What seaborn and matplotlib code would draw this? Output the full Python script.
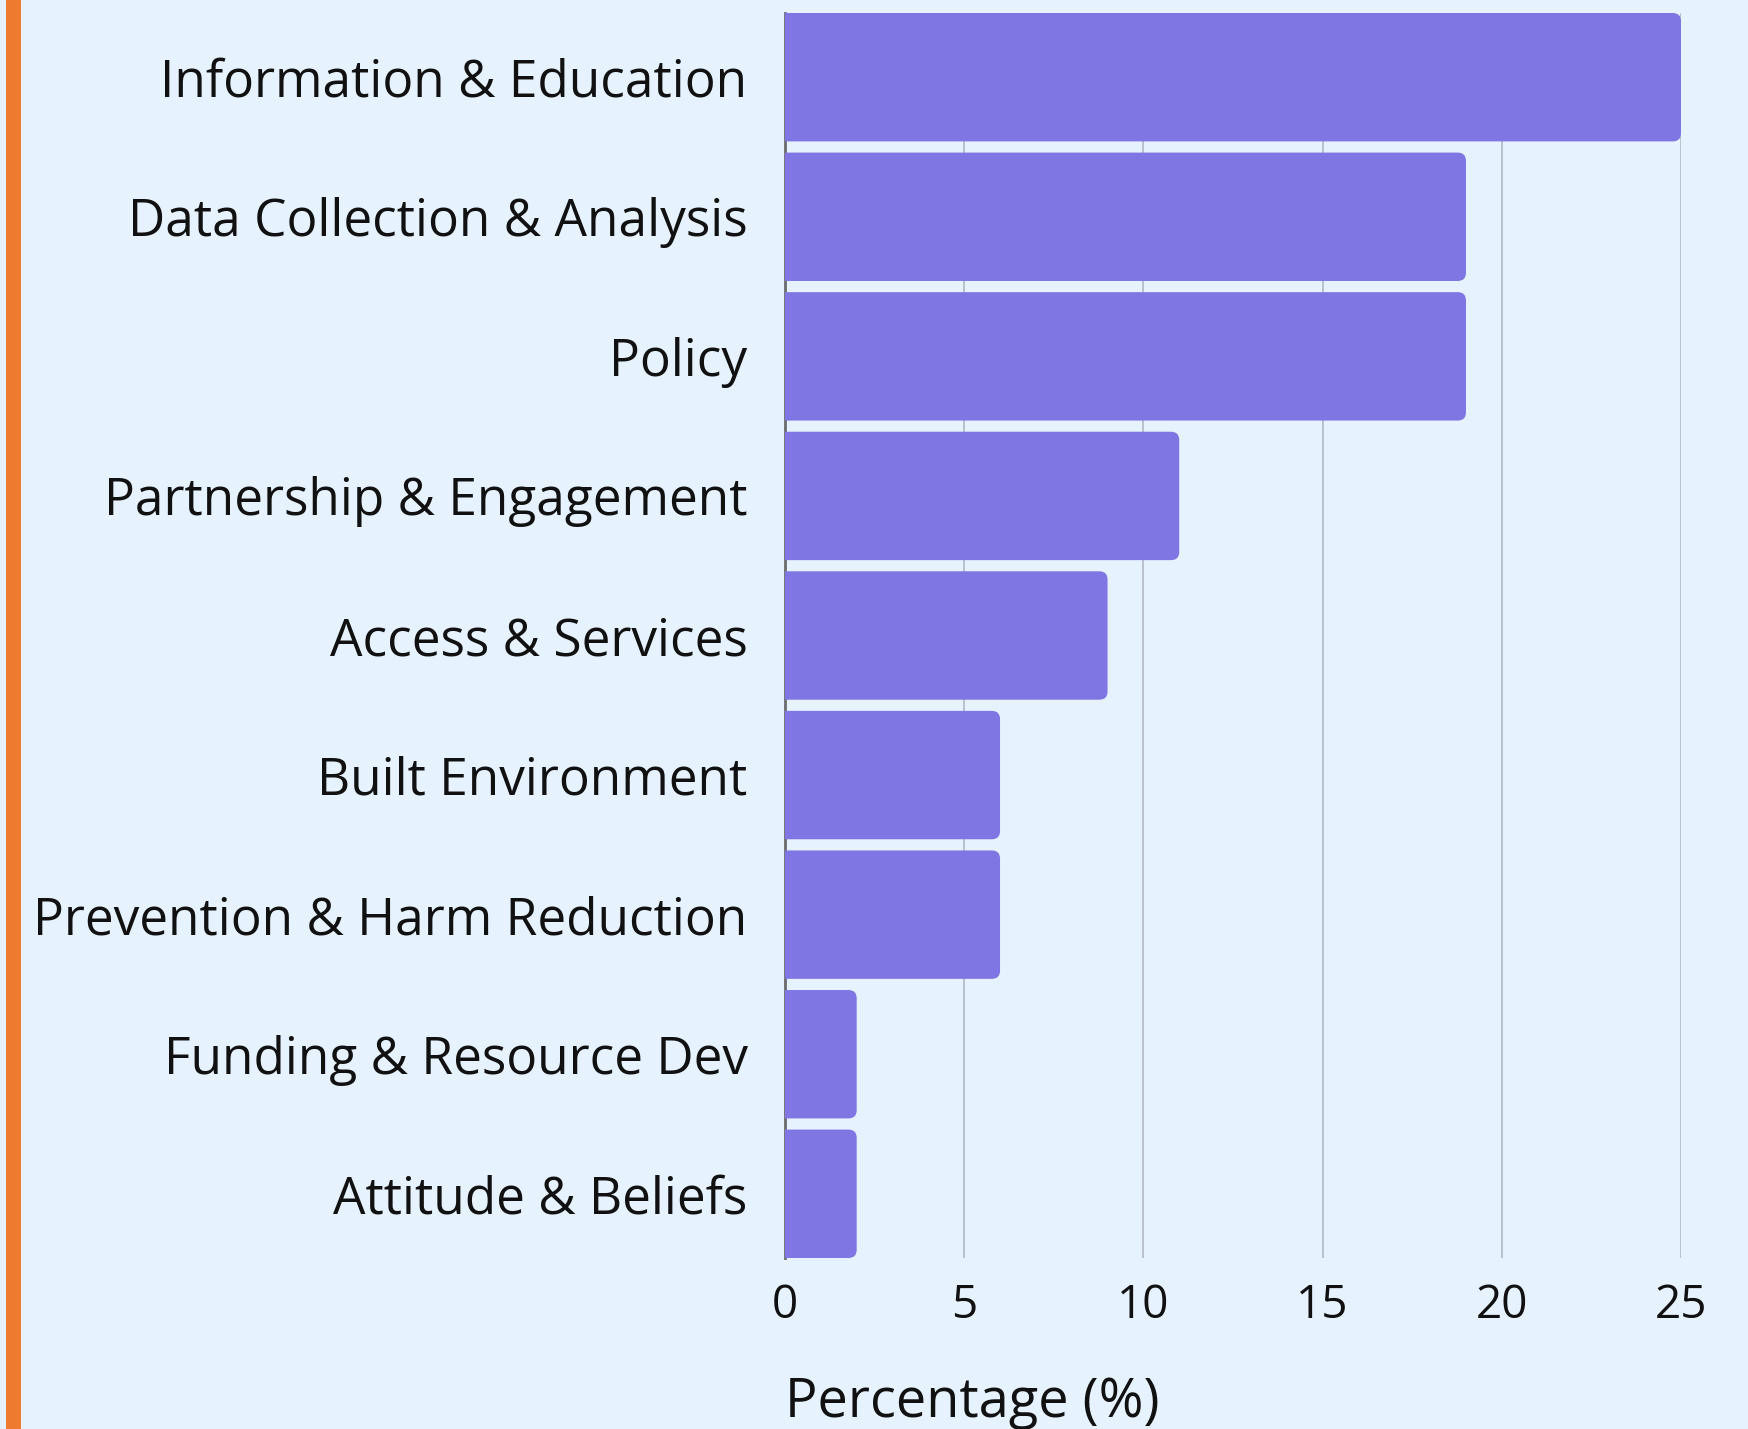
import matplotlib
matplotlib.use("Agg")
import matplotlib.pyplot as plt
import pandas as pd
import seaborn as sns
from matplotlib.patches import FancyBboxPatch, Rectangle

categories = [
    "Information & Education",
    "Data Collection & Analysis",
    "Policy",
    "Partnership & Engagement",
    "Access & Services",
    "Built Environment",
    "Prevention & Harm Reduction",
    "Funding & Resource Dev",
    "Attitude & Beliefs",
]
percentages = [25, 19, 19, 11, 9, 6, 6, 2, 2]
x_ticks = [0, 5, 10, 15, 20, 25]

BG = "#E6F2FD"
BAR = "#7F76E3"
ORANGE = "#EE7A2F"
GRID = "#B9C1CD"

df = pd.DataFrame({"category": categories, "pct": percentages})

sns.set_theme(style="white")
plt.rcParams["font.family"] = ["Open Sans", "DejaVu Sans"]

fig = plt.figure(figsize=(17.48, 14.29), dpi=100, facecolor=BG)
ax = fig.add_axes([785 / 1748, 1 - 1258 / 1429, 896 / 1748, 1245 / 1429])
ax.set_facecolor(BG)

bw = 0.92
sns.barplot(data=df, x="pct", y="category", color=BAR, saturation=1,
            width=bw, ax=ax, orient="h")

ax.set_xlim(0, 25)
ax.set_ylim(len(categories) - 1 + bw / 2, -bw / 2)

# swap the flat bars for ones with rounded right corners
px_x = 896 / 25
px_y = 1245 / (len(categories) - 1 + bw)
for p in list(ax.patches):
    x0, y0, w, h = p.get_x(), p.get_y(), p.get_width(), p.get_height()
    p.set_visible(False)
    box = FancyBboxPatch((x0 - 1, y0), w + 1, h,
                         boxstyle="round,pad=0,rounding_size=0.23",
                         mutation_aspect=px_x / px_y,
                         facecolor=BAR, edgecolor="none", zorder=3)
    ax.add_patch(box)

ax.set_xticks(x_ticks)
ax.grid(axis="x", color=GRID, linewidth=1.4)
ax.grid(axis="y", visible=False)
ax.set_axisbelow(True)
for s in ["top", "right", "bottom"]:
    ax.spines[s].set_visible(False)
ax.spines["left"].set_color("#6b6b6b")
ax.spines["left"].set_linewidth(2)
ax.spines["left"].set_zorder(1)

ax.tick_params(axis="y", length=0, pad=27, labelsize=37, labelcolor="#111111")
ax.tick_params(axis="x", length=0, pad=18, labelsize=33, labelcolor="#111111")
ax.set_ylabel("")
ax.set_xlabel("Percentage (%)", fontsize=39, color="#111111", loc="left",
              labelpad=33)

fig.patches.append(Rectangle((6 / 1748, 0), 15 / 1748, 1, transform=fig.transFigure,
                             facecolor=ORANGE, edgecolor="none", zorder=5))

fig.savefig("out.png", dpi=100, facecolor=BG)
